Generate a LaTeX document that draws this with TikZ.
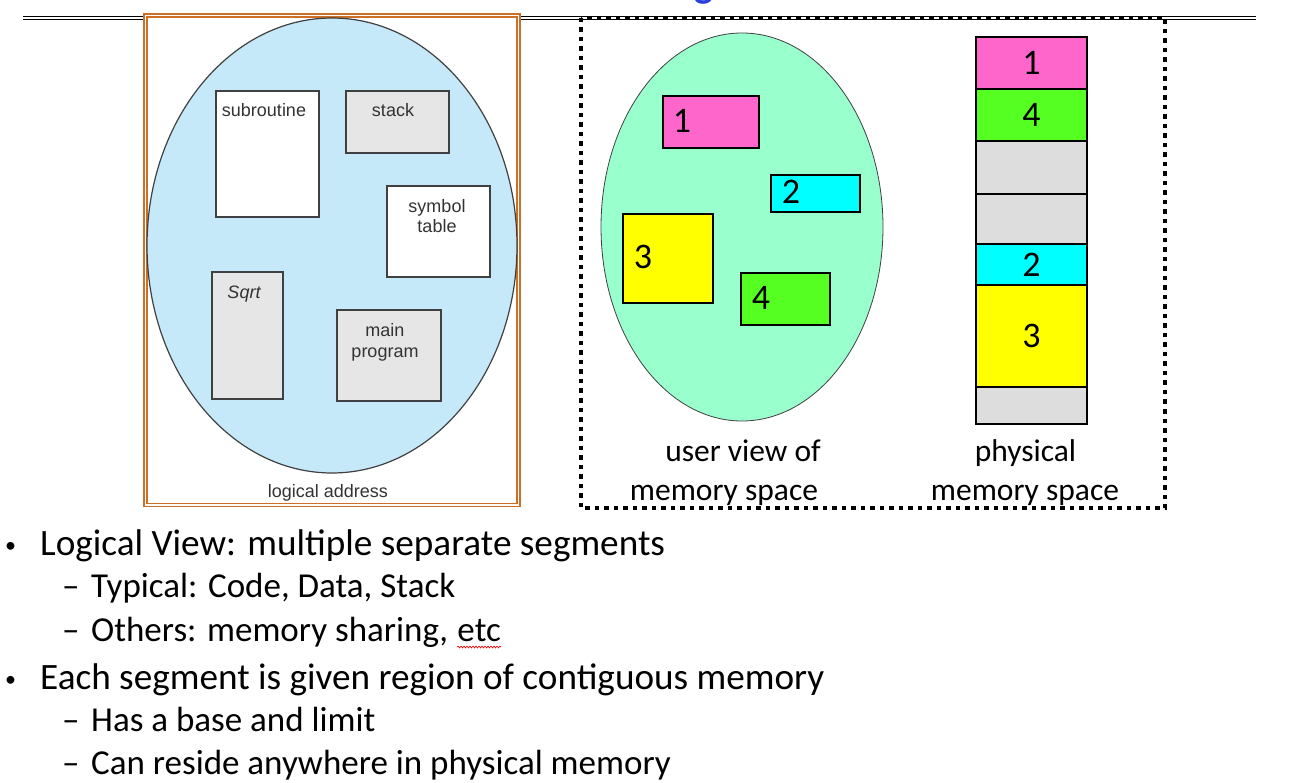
\documentclass[tikz,border=0pt]{standalone}
\usepackage{fontspec}
\setmainfont{Carlito}
\newfontfamily\figfont{Liberation Sans}
\usetikzlibrary{positioning,shapes.geometric,decorations.pathmorphing}

\definecolor{skyfill}{HTML}{C6E9FA}
\definecolor{boxgray}{HTML}{E6E6E6}
\definecolor{boxline}{HTML}{404040}
\definecolor{labelgray}{HTML}{333333}
\definecolor{framebrown}{HTML}{CC7028}
\definecolor{mintfill}{HTML}{99FFCC}
\definecolor{segpink}{HTML}{FF66CC}
\definecolor{segcyan}{HTML}{00FFFF}
\definecolor{segyellow}{HTML}{FFFF00}
\definecolor{seglime}{HTML}{55FF22}
\definecolor{memgray}{HTML}{DDDDDD}
\definecolor{titleblue}{HTML}{2B3FE0}

\begin{document}
\begin{tikzpicture}[x=1pt,y=-1pt,
    figbox/.style={draw=boxline, line width=1.2pt, inner sep=0pt, outer sep=0pt},
    figtext/.style={font=\figfont\fontsize{18}{20}\selectfont, text=labelgray, anchor=base, inner sep=0pt},
    seg/.style={draw=black, line width=1.2pt, inner sep=0pt, outer sep=0pt, minimum width=111pt},
    digit/.style={font=\fontsize{36}{40}\selectfont, inner sep=0pt},
    memcaption/.style={font=\fontsize{31.5}{36}\selectfont, anchor=base, inner sep=0pt},
    bullet/.style={font=\fontsize{37.2}{44}\selectfont, anchor=base west, inner sep=0pt},
    bulletdot/.style={font=\fontsize{22}{26}\selectfont, anchor=base west, inner sep=0pt},
    subbullet/.style={font=\fontsize{35}{40}\selectfont, anchor=base west, inner sep=0pt}]
  \useasboundingbox (0,0) rectangle (1301,783);

  % Title remnant and rule
  \node (title) [font=\bfseries\fontsize{40}{44}\selectfont, text=titleblue, anchor=base, inner sep=0pt] at (704,-2) {g};
  \draw[double, double distance=2pt, line width=1pt] (23,18) -- (1256,18);

  % Logical address figure
  \draw[draw=framebrown, double=white, double distance=1.6pt, line width=1.6pt, fill=white] (145.5,15.5) rectangle (518.5,505);
  \node (logical) [ellipse, draw=boxline, line width=1.2pt, fill=skyfill, inner sep=0pt, minimum width=370pt, minimum height=455pt] at (332,245.5) {};

  \node (sub) [figbox, fill=white, minimum width=103pt, minimum height=126pt] at (267.5,154) {};
  \node (stack) [figbox, fill=boxgray, minimum width=103pt, minimum height=62pt] at (397.5,122) {};
  \node (symtab) [figbox, fill=white, minimum width=103pt, minimum height=91pt] at (438.5,231.5) {};
  \node (sqrt) [figbox, fill=boxgray, minimum width=71pt, minimum height=127pt] at (247.5,335.5) {};
  \node (mainprog) [figbox, fill=boxgray, minimum width=104pt, minimum height=91pt] at (389,355.5) {};

  \node (subtxt) [figtext] at (264,117) {subroutine};
  \node (stacktxt) [figtext] at (393,117) {stack};
  \node (symtxt) [figtext] at (437,213) {symbol};
  \node (tabtxt) [figtext] at (437,233) {table};
  \node (sqrttxt) [figtext, font=\figfont\itshape\fontsize{18}{20}\selectfont] at (244,299) {Sqrt};
  \node (maintxt) [figtext] at (385,337) {main};
  \node (progtxt) [figtext] at (385,358) {program};
  \node (logtxt) [figtext] at (328,497) {logical address};

  % User view and physical memory
  \draw[line width=4.5pt, dash pattern=on 4.5pt off 5pt] (581,18) rectangle (1165,508);
  \node (user) [ellipse, draw=boxline, line width=0.8pt, fill=mintfill, inner sep=0pt, minimum width=282pt, minimum height=388pt] at (742,227) {};

  \node (u1) [seg, fill=segpink, minimum width=96pt, minimum height=52pt] at (711,122) {};
  \node (u2) [seg, fill=segcyan, minimum width=89pt, minimum height=37pt] at (815.5,193.5) {};
  \node (u3) [seg, fill=segyellow, minimum width=90pt, minimum height=89pt] at (668,258.5) {};
  \node (u4) [seg, fill=seglime, minimum width=89pt, minimum height=52pt] at (785.5,299) {};
  \node (u1txt) [digit, anchor=base] at (682,133) {1};
  \node (u2txt) [digit, anchor=base] at (791,204) {2};
  \node (u3txt) [digit, anchor=base] at (643,269) {3};
  \node (u4txt) [digit, anchor=base] at (761,310) {4};

  \node (pm1) [seg, digit, fill=segpink, minimum height=52pt] at (1031.5,63) {1};
  \node (pm4) [seg, digit, fill=seglime, minimum height=52pt, below=0pt of pm1] {4};
  \node (pmfree1) [seg, fill=memgray, minimum height=53pt, below=0pt of pm4] {};
  \node (pmfree2) [seg, fill=memgray, minimum height=50pt, below=0pt of pmfree1] {};
  \node (pm2) [seg, digit, fill=segcyan, minimum height=41pt, below=0pt of pmfree2] {2};
  \node (pm3) [seg, digit, fill=segyellow, minimum height=102pt, below=0pt of pm2] {3};
  \node (pmfree3) [seg, fill=memgray, minimum height=37pt, below=0pt of pm3] {};

  \node (usercap1) [memcaption] at (743,461) {user view of};
  \node (usercap2) [memcaption] at (724,500) {memory space};
  \node (physcap1) [memcaption] at (1025.5,461) {physical};
  \node (physcap2) [memcaption] at (1025,500) {memory space};

  % Bullet list
  \node (dot1) [bulletdot] at (5,552) {•};
  \node (line1) [bullet] at (40,555) {Logical View: multiple separate segments};
  \node (dash2) [subbullet] at (62,597) {–};
  \node (line2) [subbullet] at (91,597) {Typical: Code, Data, Stack};
  \node (dash3) [subbullet] at (62,641) {–};
  \node (line3) [subbullet] at (91,641) {Others: memory sharing,};
  \node (etc) [subbullet, anchor=base west] at ([xshift=9pt]line3.base east) {etc};
  \node (dot2) [bulletdot] at (5,686) {•};
  \node (line4) [bullet] at (40,689) {Each segment is given region of contiguous memory};
  \node (dash5) [subbullet] at (62,731) {–};
  \node (line5) [subbullet] at (91,731) {Has a base and limit};
  \node (dash6) [subbullet] at (62,774) {–};
  \node (line6) [subbullet] at (91,774) {Can reside anywhere in physical memory};

  \coordinate (etcL) at ([yshift=-6pt]etc.base west);
  \coordinate (etcR) at ([yshift=-6pt]etc.base east);
  \draw[red, line width=0.6pt, decorate, decoration={zigzag, segment length=3pt, amplitude=1pt}] (etcL) -- (etcR);
\end{tikzpicture}
\end{document}
